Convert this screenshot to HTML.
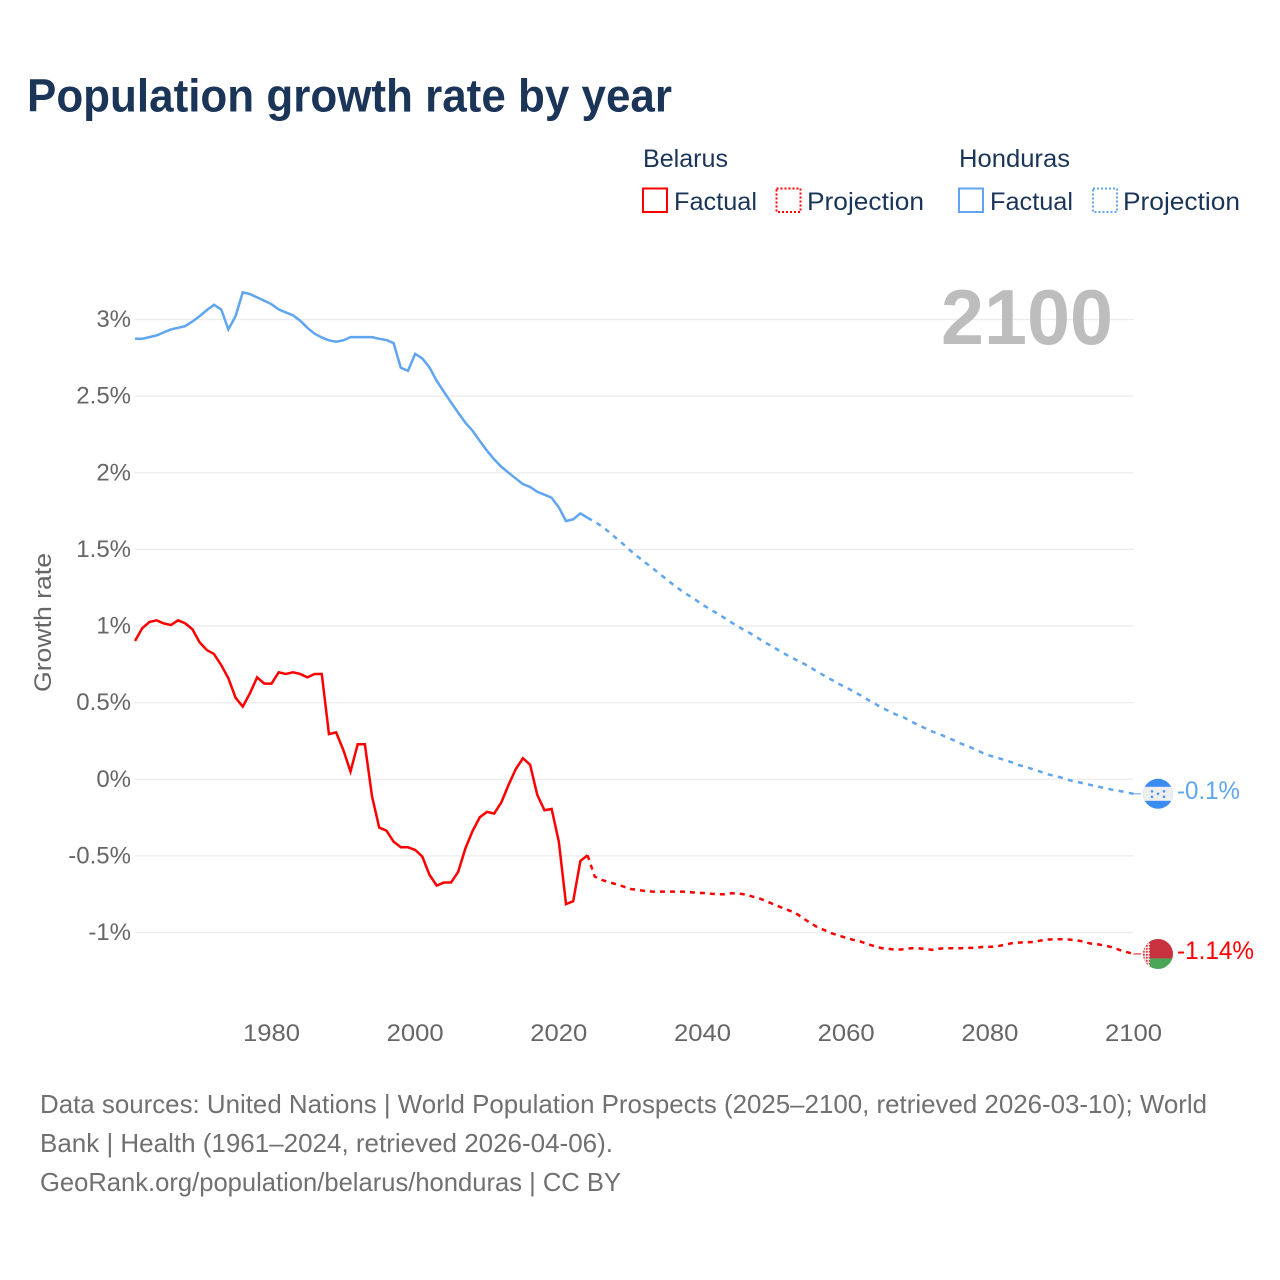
<!DOCTYPE html>
<html lang="en">
<head>
<meta charset="utf-8">
<title>Population growth rate by year</title>
<style>
  html, body { margin: 0; padding: 0; background: #fff; }
  svg { display: block; font-family: "Liberation Sans", sans-serif; }
  .tick { font-size: 24px; fill: #666; }
  .legend { font-size: 25px; fill: #1a3557; }
  .foot { font-size: 26px; fill: #707070; }
</style>
</head>
<body>
<svg id="chart" xmlns="http://www.w3.org/2000/svg" width="1280" height="1280" viewBox="0 0 1280 1280">
  <defs>
    <clipPath id="flag-clip"><circle cx="0" cy="0" r="15"></circle></clipPath>
    <pattern id="belarus-ornament" x="0" y="0" width="3" height="3" patternUnits="userSpaceOnUse">
      <rect x="0" y="0" width="3" height="3" fill="#f4e0e0"></rect>
      <rect x="0" y="0" width="1.7" height="1.7" fill="#d8343f"></rect>
    </pattern>
  </defs>
  <rect x="0" y="0" width="1280" height="1280" fill="#fff"></rect>

  <text x="27" y="111.5" font-size="46" font-weight="700" fill="#1a3557" textLength="645" lengthAdjust="spacingAndGlyphs">Population growth rate by year</text>

  <g>
    <text class="legend" x="643" y="167" textLength="85" lengthAdjust="spacingAndGlyphs">Belarus</text>
    <text class="legend" x="959" y="167" textLength="111" lengthAdjust="spacingAndGlyphs">Honduras</text>

    <rect x="643" y="188.5" width="24" height="23.5" fill="none" stroke="#ff0000" stroke-width="2"></rect>
    <text class="legend" x="674" y="210" textLength="83" lengthAdjust="spacingAndGlyphs">Factual</text>
    <rect x="776.5" y="188.5" width="24" height="23.5" fill="none" stroke="#ff0000" stroke-width="2" stroke-dasharray="2 2"></rect>
    <text class="legend" x="807" y="210" textLength="117" lengthAdjust="spacingAndGlyphs">Projection</text>

    <rect x="959" y="188.5" width="24" height="23.5" fill="none" stroke="#60a5ef" stroke-width="2"></rect>
    <text class="legend" x="990" y="210" textLength="83" lengthAdjust="spacingAndGlyphs">Factual</text>
    <rect x="1093" y="188.5" width="24" height="23.5" fill="none" stroke="#60a5ef" stroke-width="2" stroke-dasharray="2 2"></rect>
    <text class="legend" x="1123" y="210" textLength="117" lengthAdjust="spacingAndGlyphs">Projection</text>
  </g>

  <g id="grid"></g>
  <g id="y-ticks"></g>
  <g id="x-ticks"></g>

  <text x="941" y="344" font-size="78" font-weight="700" fill="#bdbdbd" textLength="172" lengthAdjust="spacingAndGlyphs">2100</text>

  <text class="tick" transform="translate(51 692) rotate(-90)" x="0" y="0" textLength="139" lengthAdjust="spacingAndGlyphs">Growth rate</text>

  <g id="series"></g>

  <g id="flag-honduras">
    <g clip-path="url(#flag-clip)">
      <rect x="-15" y="-16" width="30" height="32" fill="#3a8cf2"></rect>
      <rect x="-15" y="-7" width="30" height="14" fill="#eeeeee"></rect>
      <circle cx="-6" cy="-2.5" r="1.3" fill="#4a94ee"></circle>
      <circle cx="6" cy="-2.5" r="1.3" fill="#4a94ee"></circle>
      <circle cx="0" cy="0" r="1.3" fill="#4a94ee"></circle>
      <circle cx="-6" cy="3" r="1.3" fill="#4a94ee"></circle>
      <circle cx="6" cy="3" r="1.3" fill="#4a94ee"></circle>
    </g>
  </g>
  <g id="flag-belarus">
    <g clip-path="url(#flag-clip)">
      <rect x="-15" y="-16" width="30" height="20.5" fill="#c8313e"></rect>
      <rect x="-15" y="4.5" width="30" height="11.5" fill="#4aa657"></rect>
      <rect x="-15" y="-16" width="7" height="32" fill="url(#belarus-ornament)"></rect>
    </g>
  </g>

  <text id="label-honduras" x="1177" font-size="25" fill="#60a5ef" textLength="63" lengthAdjust="spacingAndGlyphs"></text>
  <text id="label-belarus" x="1177" font-size="25" fill="#ff0000" textLength="77" lengthAdjust="spacingAndGlyphs"></text>

  <g>
    <text class="foot" x="40" y="1113" textLength="1167" lengthAdjust="spacingAndGlyphs">Data sources: United Nations | World Population Prospects (2025–2100, retrieved 2026-03-10); World</text>
    <text class="foot" x="40" y="1152" textLength="573" lengthAdjust="spacingAndGlyphs">Bank | Health (1961–2024, retrieved 2026-04-06).</text>
    <text class="foot" x="40" y="1191" textLength="581" lengthAdjust="spacingAndGlyphs">GeoRank.org/population/belarus/honduras | CC BY</text>
  </g>
</svg>

<script>
const factualStartYear = 1961;
const projectionStartYear = 2024;
const xTickYears = [1980, 2000, 2020, 2040, 2060, 2080, 2100];
const yTickValues = [3, 2.5, 2, 1.5, 1, 0.5, 0, -0.5, -1];
const endValueLabels = { honduras: '-0.1%', belarus: '-1.14%' };

const belarusFactual = [
  0.902, 0.985, 1.026, 1.037, 1.017, 1.006, 1.037, 1.017, 0.978, 0.893,
  0.843, 0.817, 0.745, 0.659, 0.532, 0.474, 0.561, 0.665, 0.624, 0.624,
  0.698, 0.687, 0.698, 0.687, 0.665, 0.687, 0.687, 0.295, 0.306, 0.191,
  0.05, 0.228, 0.228, -0.113, -0.316, -0.335, -0.407, -0.444, -0.444, -0.461,
  -0.505, -0.624, -0.694, -0.674, -0.674, -0.603, -0.45, -0.337, -0.248, -0.213,
  -0.224, -0.15, -0.037, 0.065, 0.137, 0.095, -0.102, -0.202, -0.194, -0.407,
  -0.815, -0.796, -0.533, -0.496
];
const belarusProjection = [
  -0.496, -0.635, -0.657, -0.672, -0.685, -0.7, -0.716,
  -0.722, -0.729, -0.733, -0.733, -0.733, -0.733, -0.733, -0.735, -0.74, -0.742,
  -0.746, -0.75, -0.75, -0.744, -0.746, -0.752, -0.766, -0.779, -0.798, -0.818,
  -0.837, -0.855, -0.874, -0.907, -0.937, -0.966, -0.985, -1.005, -1.02, -1.035,
  -1.048, -1.059, -1.076, -1.09, -1.103, -1.107, -1.113, -1.109, -1.103, -1.103,
  -1.107, -1.113, -1.105, -1.103, -1.103, -1.103, -1.1, -1.1, -1.094, -1.094,
  -1.09, -1.081, -1.07, -1.066, -1.064, -1.062, -1.053, -1.046, -1.044, -1.044,
  -1.046, -1.05, -1.059, -1.072, -1.077, -1.085, -1.096, -1.113, -1.127, -1.14
];
const hondurasFactual = [
  2.874, 2.874, 2.885, 2.896, 2.916, 2.935, 2.946, 2.957, 2.987, 3.022,
  3.061, 3.096, 3.066, 2.935, 3.022, 3.177, 3.166, 3.144, 3.122, 3.1,
  3.066, 3.046, 3.027, 2.992, 2.946, 2.907, 2.883, 2.864, 2.855, 2.864,
  2.885, 2.885, 2.885, 2.885, 2.874, 2.866, 2.846, 2.685, 2.665, 2.776,
  2.746, 2.687, 2.6, 2.528, 2.459, 2.391, 2.326, 2.274, 2.207, 2.144,
  2.087, 2.039, 2.0, 1.963, 1.926, 1.907, 1.876, 1.857, 1.837, 1.774,
  1.685, 1.696, 1.735, 1.706
];
const hondurasProjection = [
  1.706, 1.68, 1.65, 1.613, 1.572, 1.533, 1.491,
  1.452, 1.415, 1.38, 1.341, 1.305, 1.267, 1.233, 1.202, 1.172, 1.139,
  1.111, 1.083, 1.054, 1.024, 0.995, 0.969, 0.943, 0.913, 0.885, 0.858,
  0.83, 0.804, 0.78, 0.757, 0.73, 0.702, 0.674, 0.648, 0.622, 0.598,
  0.574, 0.548, 0.519, 0.493, 0.467, 0.443, 0.421, 0.404, 0.378, 0.354,
  0.333, 0.311, 0.294, 0.274, 0.254, 0.232, 0.215, 0.193, 0.172, 0.154,
  0.141, 0.126, 0.111, 0.093, 0.08, 0.065, 0.05, 0.033, 0.022, 0.01,
  -0.005, -0.016, -0.026, -0.037, -0.048, -0.057, -0.068, -0.076, -0.085, -0.095
];

const NS = 'http://www.w3.org/2000/svg';
const RED = '#ff0000';
const BLUE = '#60a5ef';
const PLOT_LEFT = 135;
const PLOT_RIGHT = 1133.5;
const YEAR_MIN = 1961;
const YEAR_MAX = 2100;
const ZERO_Y = 779.25;
const PX_PER_UNIT = 153.25;

function xScale(year) {
  return PLOT_LEFT + (year - YEAR_MIN) * (PLOT_RIGHT - PLOT_LEFT) / (YEAR_MAX - YEAR_MIN);
}
function yScale(value) {
  return ZERO_Y - value * PX_PER_UNIT;
}
function make(tag, parent) {
  const el = document.createElementNS(NS, tag);
  parent.appendChild(el);
  return el;
}
function pathFor(values, startYear) {
  return values.map(function (v, i) {
    return (i ? 'L' : 'M') + xScale(startYear + i).toFixed(2) + ' ' + yScale(v).toFixed(2);
  }).join(' ');
}

const gridGroup = document.getElementById('grid');
const yTickGroup = document.getElementById('y-ticks');
yTickValues.forEach(function (v) {
  const line = make('line', gridGroup);
  
  
  line.setAttribute('x1', PLOT_LEFT - 0.5);
  line.setAttribute('x2', PLOT_RIGHT);
  line.setAttribute('y1', yScale(v));
  line.setAttribute('y2', yScale(v));
  line.setAttribute('stroke', '#ebebeb');
  line.setAttribute('stroke-width', '1.3');

  const label = make('text', yTickGroup);
  
  
  label.setAttribute('class', 'tick');
  label.setAttribute('x', 131);
  label.setAttribute('y', yScale(v) + 7.5);
  label.setAttribute('text-anchor', 'end');
  label.textContent = v + '%';
});

const xTickGroup = document.getElementById('x-ticks');
xTickYears.forEach(function (year) {
  const label = make('text', xTickGroup);
  
  
  label.setAttribute('class', 'tick');
  label.setAttribute('x', xScale(year));
  label.setAttribute('y', 1041);
  label.setAttribute('text-anchor', 'middle');
  label.setAttribute('textLength', '57');
  label.setAttribute('lengthAdjust', 'spacingAndGlyphs');
  label.textContent = year;
});

const seriesGroup = document.getElementById('series');

const belarusFactualLine = make('path', seriesGroup);


belarusFactualLine.setAttribute('d', pathFor(belarusFactual, factualStartYear));
belarusFactualLine.setAttribute('fill', 'none');
belarusFactualLine.setAttribute('stroke', RED);
belarusFactualLine.setAttribute('stroke-width', '2.5');

const belarusProjectionLine = make('path', seriesGroup);


belarusProjectionLine.setAttribute('d', pathFor(belarusProjection, projectionStartYear));
belarusProjectionLine.setAttribute('fill', 'none');
belarusProjectionLine.setAttribute('stroke', RED);
belarusProjectionLine.setAttribute('stroke-width', '2.5');
belarusProjectionLine.setAttribute('stroke-dasharray', '5 5');

const hondurasFactualLine = make('path', seriesGroup);


hondurasFactualLine.setAttribute('d', pathFor(hondurasFactual, factualStartYear));
hondurasFactualLine.setAttribute('fill', 'none');
hondurasFactualLine.setAttribute('stroke', BLUE);
hondurasFactualLine.setAttribute('stroke-width', '2.5');

const hondurasProjectionLine = make('path', seriesGroup);


hondurasProjectionLine.setAttribute('d', pathFor(hondurasProjection, projectionStartYear));
hondurasProjectionLine.setAttribute('fill', 'none');
hondurasProjectionLine.setAttribute('stroke', BLUE);
hondurasProjectionLine.setAttribute('stroke-width', '2.5');
hondurasProjectionLine.setAttribute('stroke-dasharray', '5 5.4');

const hondurasEndY = yScale(hondurasProjection[hondurasProjection.length - 1]);
const belarusEndY = yScale(belarusProjection[belarusProjection.length - 1]);

const hondurasLeader = make('line', seriesGroup);


hondurasLeader.setAttribute('x1', xScale(YEAR_MAX));
hondurasLeader.setAttribute('x2', 1141);
hondurasLeader.setAttribute('y1', hondurasEndY);
hondurasLeader.setAttribute('y2', hondurasEndY);
hondurasLeader.setAttribute('stroke', BLUE);
hondurasLeader.setAttribute('stroke-width', '1');

const belarusLeader = make('line', seriesGroup);


belarusLeader.setAttribute('x1', xScale(YEAR_MAX));
belarusLeader.setAttribute('x2', 1141);
belarusLeader.setAttribute('y1', belarusEndY);
belarusLeader.setAttribute('y2', belarusEndY);
belarusLeader.setAttribute('stroke', RED);
belarusLeader.setAttribute('stroke-width', '1');

document.getElementById('flag-honduras').setAttribute('transform', 'translate(1158 ' + hondurasEndY + ')');
document.getElementById('flag-belarus').setAttribute('transform', 'translate(1158 ' + belarusEndY + ')');

const hondurasLabel = document.getElementById('label-honduras');
hondurasLabel.setAttribute('y', hondurasEndY + 5);
hondurasLabel.textContent = endValueLabels.honduras;

const belarusLabel = document.getElementById('label-belarus');
belarusLabel.setAttribute('y', belarusEndY + 5);
belarusLabel.textContent = endValueLabels.belarus;
</script>
</body>
</html>
